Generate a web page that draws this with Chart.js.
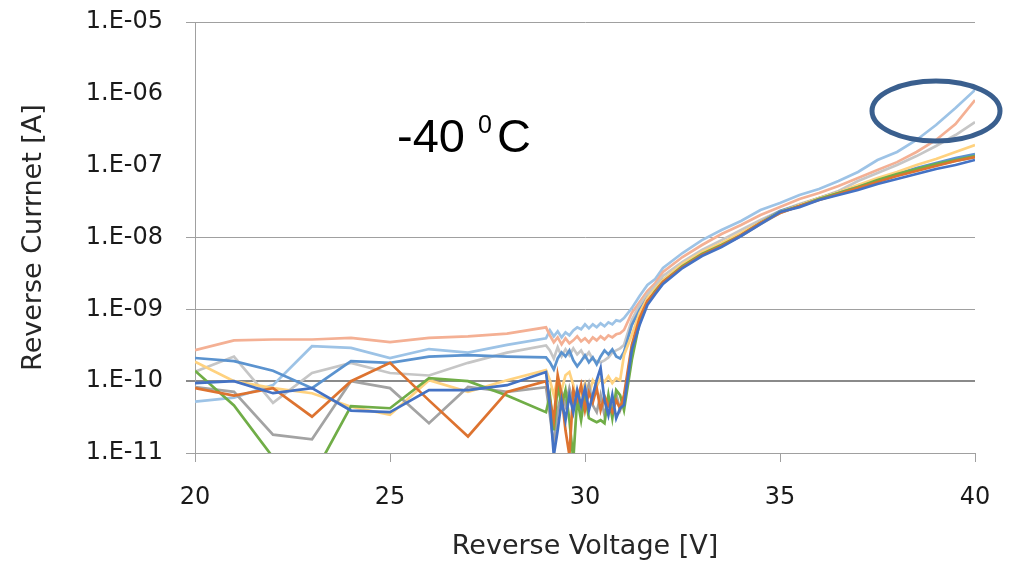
<!DOCTYPE html>
<html>
<head>
<meta charset="utf-8">
<script src="https://cdn.jsdelivr.net/npm/chart.js@4.4.1/dist/chart.umd.min.js"></script>
<style>
  html, body { margin: 0; padding: 0; background: #fff; }
  #wrap { width: 1009px; height: 561px; }
</style>
</head>
<body>
<div id="wrap"><canvas id="ivChart" width="1009" height="561"></canvas></div>
<script>
// Reverse voltage sweep [V]
const voltage = [
    20, 21, 22, 23, 24, 25, 26, 27, 28, 29,
    29.1, 29.2, 29.3, 29.4, 29.5, 29.6, 29.7, 29.8, 29.9, 30.0,
    30.1, 30.2, 30.3, 30.4, 30.5, 30.6, 30.7, 30.8, 30.9, 31.0,
    31.2, 31.4, 31.6, 31.8, 32.0,
    32.5, 33, 33.5, 34, 34.5, 35, 35.5, 36, 36.5, 37, 37.5, 38, 38.5, 39, 39.5, 40
];

// Reverse current [A], one array per device
const currDarkBlue = [
    9.4e-11, 1.0e-10, 6.8e-11, 8.0e-11, 3.9e-11, 3.7e-11, 7.5e-11, 7.5e-11, 8.8e-11, 1.34e-10,
    4.6e-11, 9.3e-12, 2.07e-11, 5.4e-11, 2.86e-11, 6.4e-11, 3.7e-11, 7.5e-11, 4.6e-11, 8.0e-11,
    3.95e-11, 6.4e-11, 1.03e-10, 1.52e-10, 5.4e-11, 3.36e-11, 6.4e-11, 3.05e-11, 4.2e-11, 4.66e-11,
    2.72e-10, 6.05e-10, 1.15e-9, 1.63e-9, 2.25e-9,
    3.76e-9, 5.52e-9, 7.38e-9, 1.05e-8, 1.54e-8, 2.26e-8, 2.65e-8, 3.33e-8, 3.9e-8, 4.58e-8, 5.56e-8, 6.52e-8, 7.66e-8, 8.98e-8, 1.02e-7, 1.2e-7
];
const currOrange = [
    8.0e-11, 6.3e-11, 8.0e-11, 3.2e-11, 1.0e-10, 1.8e-10, 5.4e-11, 1.7e-11, 7.1e-11, 1.0e-10,
    5.4e-11, 2.86e-11, 1.21e-10, 6.4e-11, 2.07e-11, 9.3e-12, 7.5e-11, 5.4e-11, 8.8e-11, 3.95e-11,
    7.0e-11, 5.1e-11, 8.0e-11, 3.95e-11, 6.2e-11, 4.6e-11, 3.7e-11, 5.4e-11, 4.2e-11, 6.41e-11,
    3.19e-10, 7.57e-10, 1.31e-9, 1.74e-9, 2.4e-9,
    3.88e-9, 5.7e-9, 7.62e-9, 1.08e-8, 1.59e-8, 2.19e-8, 2.74e-8, 3.33e-8, 4.03e-8, 4.89e-8, 5.93e-8, 7.18e-8, 8.43e-8, 9.89e-8, 1.16e-7, 1.32e-7
];
const currGray = [
    8.3e-11, 7.1e-11, 1.8e-11, 1.55e-11, 1.0e-10, 8.0e-11, 2.6e-11, 8.3e-11, 7.1e-11, 8.25e-11,
    3.36e-11, 1.28e-11, 3.95e-11, 7.0e-11, 4.6e-11, 8.0e-11, 5.1e-11, 6.4e-11, 3.7e-11, 5.8e-11,
    9.1e-11, 4.6e-11, 3.7e-11, 6.4e-11, 3.36e-11, 5.4e-11, 4.2e-11, 6.6e-11, 3.95e-11, 5.47e-11,
    2.89e-10, 7.1e-10, 1.26e-9, 1.74e-9, 2.32e-9,
    3.88e-9, 5.7e-9, 7.62e-9, 1.05e-8, 1.54e-8, 2.19e-8, 2.74e-8, 3.43e-8, 4.16e-8, 5.05e-8, 6.11e-8, 7.41e-8, 8.71e-8, 1.02e-7, 1.16e-7, 1.32e-7
];
const currYellow = [
    1.86e-10, 1.0e-10, 8.0e-11, 6.8e-11, 4.4e-11, 3.4e-11, 1.03e-10, 7.1e-11, 1.03e-10, 1.42e-10,
    1.03e-10, 6.4e-11, 1.1e-10, 7.5e-11, 1.21e-10, 1.34e-10, 8.8e-11, 4.63e-11, 7.0e-11, 9.4e-11,
    6.4e-11, 1.03e-10, 8.5e-11, 1.1e-10, 9.7e-11, 1.17e-10, 9.4e-11, 1.1e-10, 1.03e-10, 2.3e-10,
    4.39e-10, 8.89e-10, 1.44e-9, 1.92e-9, 2.56e-9,
    4.28e-9, 6.28e-9, 8.38e-9, 1.16e-8, 1.64e-8, 2.26e-8, 2.83e-8, 3.55e-8, 4.3e-8, 5.38e-8, 6.73e-8, 8.16e-8, 1.02e-7, 1.24e-7, 1.55e-7, 1.94e-7
];
const currMidBlue = [
    2.1e-10, 1.9e-10, 1.4e-10, 8.0e-11, 1.9e-10, 1.8e-10, 2.2e-10, 2.3e-10, 2.2e-10, 2.14e-10,
    1.83e-10, 1.46e-10, 2.07e-10, 2.52e-10, 2.21e-10, 2.68e-10, 1.95e-10, 1.61e-10, 1.89e-10, 2.29e-10,
    1.83e-10, 2.14e-10, 1.71e-10, 2.21e-10, 2.68e-10, 2.36e-10, 2.77e-10, 2.21e-10, 2.07e-10, 2.55e-10,
    6.05e-10, 9.79e-10, 1.44e-9, 1.86e-9, 2.56e-9,
    4.14e-9, 6.08e-9, 8.12e-9, 1.12e-8, 1.64e-8, 2.34e-8, 2.83e-8, 3.55e-8, 4.3e-8, 5.21e-8, 6.31e-8, 7.66e-8, 9.3e-8, 1.09e-7, 1.28e-7, 1.45e-7
];
const currGreen = [
    1.4e-10, 4.6e-11, 8.7e-12, 4.5e-12, 4.5e-11, 4.2e-11, 1.1e-10, 1.0e-10, 6.3e-11, 3.7e-11,
    6.4e-11, 2.07e-11, 8.8e-11, 4.6e-11, 7.5e-11, 2.86e-11, 8.0e-12, 5.8e-11, 2.86e-11, 6.4e-11,
    3.05e-11, 2.86e-11, 2.68e-11, 2.86e-11, 2.6e-11, 6.4e-11, 3.05e-11, 7.5e-11, 6.4e-11, 3.96e-11,
    1.97e-10, 6.66e-10, 1.26e-9, 1.8e-9, 2.4e-9,
    4.01e-9, 5.89e-9, 7.86e-9, 1.08e-8, 1.59e-8, 2.26e-8, 2.74e-8, 3.43e-8, 4.16e-8, 5.05e-8, 6.31e-8, 7.66e-8, 8.98e-8, 1.05e-7, 1.2e-7, 1.36e-7
];
const currLightGray = [
    1.35e-10, 2.2e-10, 5.0e-11, 1.3e-10, 1.8e-10, 1.3e-10, 1.2e-10, 1.8e-10, 2.5e-10, 3.15e-10,
    2.68e-10, 2.07e-10, 2.96e-10, 2.21e-10, 2.77e-10, 2.29e-10, 2.86e-10, 2.36e-10, 2.68e-10, 2.14e-10,
    2.52e-10, 2.01e-10, 1.89e-10, 1.83e-10, 1.95e-10, 2.14e-10, 2.52e-10, 2.68e-10, 2.86e-10, 3.19e-10,
    7.1e-10, 1.15e-9, 1.63e-9, 2.11e-9, 2.91e-9,
    4.56e-9, 6.7e-9, 9.2e-9, 1.27e-8, 1.75e-8, 2.34e-8, 2.92e-8, 3.55e-8, 4.44e-8, 6.11e-8, 7.9e-8, 1.02e-7, 1.36e-7, 1.88e-7, 2.67e-7, 4.05e-7
];
const currLightBlue = [
    5.2e-11, 5.9e-11, 8.8e-11, 3.07e-10, 2.9e-10, 2.1e-10, 2.8e-10, 2.5e-10, 3.2e-10, 3.95e-10,
    5.1e-10, 4.21e-10, 4.94e-10, 4.07e-10, 4.78e-10, 4.34e-10, 5.1e-10, 5.62e-10, 5.27e-10, 6.18e-10,
    5.44e-10, 6.18e-10, 5.62e-10, 6.38e-10, 5.8e-10, 6.59e-10, 6.18e-10, 7.03e-10, 6.81e-10, 7.57e-10,
    1.04e-9, 1.53e-9, 2.18e-9, 2.64e-9, 3.76e-9,
    6.08e-9, 9.2e-9, 1.27e-8, 1.7e-8, 2.41e-8, 3.02e-8, 3.9e-8, 4.73e-8, 6.11e-8, 8.16e-8, 1.2e-7, 1.55e-7, 2.28e-7, 3.68e-7, 6.35e-7, 1.13e-6
];
const currSalmon = [
    2.7e-10, 3.7e-10, 3.8e-10, 3.8e-10, 4.0e-10, 3.5e-10, 4.0e-10, 4.2e-10, 4.6e-10, 5.62e-10,
    4.34e-10, 3.47e-10, 4.07e-10, 3.26e-10, 3.95e-10, 3.36e-10, 3.7e-10, 4.21e-10, 3.58e-10, 3.95e-10,
    3.47e-10, 4.07e-10, 3.7e-10, 4.21e-10, 3.82e-10, 4.34e-10, 4.07e-10, 4.49e-10, 4.63e-10, 5.15e-10,
    8.89e-10, 1.26e-9, 1.8e-9, 2.32e-9, 3.31e-9,
    5.35e-9, 7.86e-9, 1.12e-8, 1.49e-8, 2.06e-8, 2.65e-8, 3.43e-8, 4.16e-8, 5.21e-8, 6.73e-8, 8.71e-8, 1.12e-7, 1.55e-7, 2.28e-7, 3.8e-7, 8.2e-7
];

// Axis ticks
const yTickValues = [1e-11, 1e-10, 1e-9, 1e-8, 1e-7, 1e-6, 1e-5];
const yTickLabels = ['1.E-11', '1.E-10', '1.E-09', '1.E-08', '1.E-07', '1.E-06', '1.E-05'];
const yHiddenGrid = [1e-7, 1e-6];

// Temperature note and the circled high-leakage tails
const tempLabel = ['-40 ', '0', 'C'];
const tempLabelAt = [25.18, 1.55e-7];
const ringCenter = [39.0, 5.77e-7];

// first dataset is painted last (on top)
const seriesValues = [currDarkBlue, currOrange, currGreen, currGray, currYellow, currMidBlue, currLightGray, currSalmon, currLightBlue];
const seriesColors = ['#4472C4', '#DD7330', '#70AD47', '#A3A3A3', '#FFD27F', '#5B93CF', '#C6C6C6', '#F4B094', '#9DC3E6'];

const datasets = seriesValues.map((vals, i) => ({
    data: voltage.map((v, k) => ({ x: v, y: vals[k] })),
    borderColor: seriesColors[i],
    borderWidth: 2.7,
    pointRadius: 0,
    tension: 0,
    fill: false
}));

const notePlugin = {
    id: 'tempNote',
    afterDatasetsDraw(chart) {
        const { ctx, scales: { x, y } } = chart;
        ctx.save();

        ctx.beginPath();
        ctx.ellipse(x.getPixelForValue(ringCenter[0]), y.getPixelForValue(ringCenter[1]), 64, 30, 0, 0, Math.PI * 2);
        ctx.lineWidth = 5;
        ctx.strokeStyle = '#3A5F8E';
        ctx.stroke();

        let px = x.getPixelForValue(tempLabelAt[0]);
        const py = y.getPixelForValue(tempLabelAt[1]);
        ctx.fillStyle = '#000';
        ctx.textBaseline = 'alphabetic';
        ctx.textAlign = 'left';
        ctx.font = '47px "Liberation Sans", Arial, sans-serif';
        ctx.fillText(tempLabel[0], px, py);
        px += ctx.measureText(tempLabel[0]).width;
        ctx.font = '25px "Liberation Sans", Arial, sans-serif';
        ctx.fillText(tempLabel[1], px, py - 19);
        px += ctx.measureText(tempLabel[1]).width + 5;
        ctx.font = '47px "Liberation Sans", Arial, sans-serif';
        ctx.fillText(tempLabel[2], px, py);

        ctx.restore();
    }
};

const AXIS_GRAY = '#A0A0A0';
const labelFont = { family: '"DejaVu Sans", sans-serif', size: 24 };
const titleFont = { family: '"DejaVu Sans", sans-serif', size: 27, lineHeight: 1 };

new Chart(document.getElementById('ivChart'), {
    type: 'line',
    data: { datasets },
    plugins: [notePlugin],
    options: {
        responsive: false,
        animation: false,
        events: [],
        layout: { padding: { top: 22, right: 34, left: 0, bottom: 0 } },
        plugins: { legend: { display: false }, tooltip: { enabled: false } },
        scales: {
            x: {
                type: 'linear',
                min: 20,
                max: 40,
                afterFit: (s) => { s.height = 108; s.paddingLeft = 0; s.paddingRight = 0; },
                ticks: { stepSize: 5, color: '#1a1a1a', font: labelFont, padding: 21, maxRotation: 0 },
                grid: { drawOnChartArea: false, tickLength: 9, color: AXIS_GRAY },
                border: { color: AXIS_GRAY, width: 1 },
                title: { display: true, text: 'Reverse Voltage [V]', color: '#262626', font: titleFont, padding: { top: 0, bottom: 1 } }
            },
            y: {
                type: 'logarithmic',
                min: 1e-11,
                max: 1e-5,
                afterFit: (s) => { s.width = 195; s.paddingTop = 0; s.paddingBottom = 0; },
                afterBuildTicks: (s) => { s.ticks = yTickValues.map(v => ({ value: v })); },
                ticks: {
                    color: '#1a1a1a',
                    font: labelFont,
                    padding: 23,
                    autoSkip: false,
                    callback: (value) => yTickLabels[yTickValues.indexOf(value)]
                },
                grid: {
                    tickLength: 9,
                    color: (c) => {
                        if (!c.tick) return AXIS_GRAY;
                        if (yHiddenGrid.includes(c.tick.value)) return 'rgba(0,0,0,0)';
                        return c.tick.value === 1e-10 ? '#8A8A8A' : AXIS_GRAY;
                    },
                    lineWidth: (c) => (c.tick && c.tick.value === 1e-10 ? 2 : 1)
                },
                border: { color: AXIS_GRAY, width: 1 },
                title: { display: true, text: 'Reverse Currnet [A]', color: '#262626', font: titleFont, padding: { top: 20, bottom: 0 } }
            }
        }
    }
});
</script>
</body>
</html>
